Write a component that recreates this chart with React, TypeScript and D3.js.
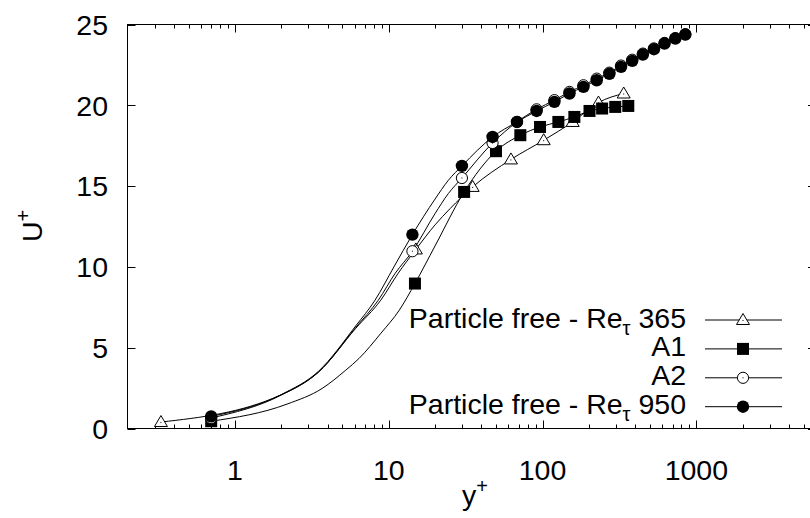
import React, { useEffect, useRef } from "react";
import * as d3 from "d3";

// y+ , U+ pairs
const re365Line = [
  [0.33, 0.4], [1.98, 2.07], [3.5, 3.5], [6.1, 6.2], [8.87, 7.94], [11.5, 9.6],
  [15, 11.08], [20, 12.6], [25, 13.6], [35.1, 14.95], [62.3, 16.65], [101.7, 17.84],
  [157, 18.97], [231, 20.17], [337, 20.73],
];
const re365Marks = [
  [0.33, 0.4], [15, 11.08], [35.1, 14.95], [62.3, 16.65], [101.7, 17.84],
  [157, 18.97], [231, 20.17], [337, 20.73],
];

const a1Line = [
  [0.7, 0.45], [2.18, 1.51], [3.69, 2.48], [5.25, 3.61], [6.4, 4.33], [8.9, 5.9],
  [11.7, 7.32], [14.8, 8.97], [20, 11.3], [30.9, 14.64], [49.8, 17.16], [71.7, 18.15],
  [96.3, 18.66], [126.7, 18.97], [161, 19.28], [202, 19.65], [244, 19.8], [297, 19.9],
  [361, 19.96],
];
const a1Marks = [
  [0.7, 0.45], [14.8, 8.97], [30.9, 14.64], [49.8, 17.16], [71.7, 18.15], [96.3, 18.66],
  [126.7, 18.97], [161, 19.28], [202, 19.65], [244, 19.8], [297, 19.9], [361, 19.96],
];

const a2Line = [
  [0.7, 0.65], [2.0, 2.07], [3.5, 3.5], [6.1, 6.25], [8.55, 7.94], [11, 9.6],
  [14.25, 10.97], [20, 13.3], [24.4, 14.54], [29.9, 15.5], [47.3, 17.67], [68.2, 18.97],
  [91.5, 19.75], [119.4, 20.32], [149.6, 20.83], [184.4, 21.24], [225, 21.65], [272, 22.02],
  [324, 22.46], [383, 22.82], [449, 23.2], [530, 23.52], [621, 23.86], [730, 24.16], [848, 24.4],
];
const a2Marks = [
  [0.7, 0.65], [14.25, 10.97], [29.9, 15.5], [47.3, 17.67], [68.2, 18.97], [91.5, 19.75],
  [119.4, 20.32], [149.6, 20.83], [184.4, 21.24], [225, 21.65], [272, 22.02], [324, 22.46],
  [383, 22.82], [449, 23.2], [530, 23.52], [621, 23.86], [730, 24.16], [848, 24.4],
];

const re950Line = [
  [0.7, 0.75], [2.0, 2.1], [3.5, 3.55], [6.1, 6.35], [8.14, 7.94], [10.8, 10.0],
  [14.25, 12.0], [20, 14.2], [24.4, 15.36], [29.9, 16.25], [47.3, 18.04], [68.2, 18.97],
  [91.5, 19.65], [119.4, 20.21], [149.6, 20.73], [184.4, 21.14], [225, 21.55], [272, 21.95],
  [324, 22.38], [383, 22.75], [449, 23.14], [530, 23.47], [621, 23.82], [730, 24.13], [848, 24.38],
];
const re950Marks = [
  [0.7, 0.75], [14.25, 12.0], [29.9, 16.25], [47.3, 18.04], [68.2, 18.97], [91.5, 19.65],
  [119.4, 20.21], [149.6, 20.73], [184.4, 21.14], [225, 21.55], [272, 21.95], [324, 22.38],
  [383, 22.75], [449, 23.14], [530, 23.47], [621, 23.82], [730, 24.13], [848, 24.38],
];

const legendNames = [
  ["Particle free - Re", "τ", " 365"],
  ["A1", "", ""],
  ["A2", "", ""],
  ["Particle free - Re", "τ", " 950"],
];
const symbols = ["triangle", "square", "circle", "dot"];
const xMajor = [1, 10, 100, 1000, 10000];
const yMajor = [0, 5, 10, 15, 20, 25];

const App = () => {
  const svgRef = useRef(null);

  useEffect(() => {
    const W = 810, H = 518;
    const left = 127.5, right = 816, top = 24.5, bottom = 428.5;
    const font = "'Liberation Sans', Arial, sans-serif";
    const fs = 28.5;
    const svg = d3.select(svgRef.current).attr("width", W).attr("height", H);
    svg.selectAll("*").remove();

    const x = d3.scaleLog().domain([0.2, 6000]).range([left, right]);
    const y = d3.scaleLinear().domain([0, 25]).range([bottom, top]);

    const ax = svg.append("g").attr("stroke", "#000").attr("stroke-width", 1);

    // minor ticks on log axis
    const minor = [];
    for (let d = 0.1; d < 10000; d *= 10) {
      for (let k = 2; k < 10; k++) {
        const v = d * k;
        if (v > 0.2 && v < 6000) minor.push(v);
      }
    }
    const majorX = xMajor.filter(v => v <= 6000);
    [[majorX, 8], [minor, 4]].forEach(([vals, len]) => {
      ax.selectAll(null).data(vals).join("line")
        .attr("x1", d => Math.round(x(d)) + 0.5).attr("x2", d => Math.round(x(d)) + 0.5)
        .attr("y1", bottom).attr("y2", bottom - len);
      ax.selectAll(null).data(vals).join("line")
        .attr("x1", d => Math.round(x(d)) + 0.5).attr("x2", d => Math.round(x(d)) + 0.5)
        .attr("y1", top).attr("y2", top + len);
    });
    ax.selectAll(null).data(yMajor).join("line")
      .attr("x1", left).attr("x2", left + 8)
      .attr("y1", d => Math.round(y(d)) + 0.5).attr("y2", d => Math.round(y(d)) + 0.5);
    ax.selectAll(null).data(yMajor).join("line")
      .attr("x1", right).attr("x2", right - 8)
      .attr("y1", d => Math.round(y(d)) + 0.5).attr("y2", d => Math.round(y(d)) + 0.5);

    ax.append("rect").attr("x", left).attr("y", top)
      .attr("width", right - left).attr("height", bottom - top)
      .attr("fill", "none");

    const lab = svg.append("g").attr("font-family", font).attr("font-size", fs).attr("fill", "#000");
    lab.selectAll(null).data(yMajor).join("text")
      .attr("x", 108).attr("y", d => y(d)).attr("dy", "0.36em")
      .attr("text-anchor", "end").text(d => d);
    lab.selectAll(null).data(majorX).join("text")
      .attr("x", d => x(d)).attr("y", 480)
      .attr("text-anchor", "middle").text(d => d);

    const ylab = lab.append("text").attr("transform", "translate(42,242) rotate(-90)");
    ylab.append("tspan").text("U");
    ylab.append("tspan").attr("font-size", 20).attr("dy", -12).text("+");
    const xlab = lab.append("text").attr("x", 462).attr("y", 505);
    xlab.append("tspan").text("y");
    xlab.append("tspan").attr("font-size", 20).attr("dy", -12).text("+");

    const drawSymbol = (g, sym, cx, cy) => {
      if (sym === "triangle") {
        g.append("path")
          .attr("d", `M${cx - 6.5},${cy + 4.5}L${cx + 6.5},${cy + 4.5}L${cx},${cy - 6.5}Z`)
          .attr("fill", "#fff").attr("stroke", "#000");
        g.append("rect").attr("x", cx - 0.5).attr("y", cy).attr("width", 1).attr("height", 1).attr("fill", "#000");
      } else if (sym === "square") {
        g.append("rect").attr("x", cx - 6).attr("y", cy - 6).attr("width", 12).attr("height", 12).attr("fill", "#000");
      } else if (sym === "circle") {
        g.append("circle").attr("cx", cx).attr("cy", cy).attr("r", 5.6)
          .attr("fill", "#fff").attr("stroke", "#000");
        g.append("rect").attr("x", cx - 0.5).attr("y", cy - 0.5).attr("width", 1).attr("height", 1).attr("fill", "#000");
      } else {
        g.append("circle").attr("cx", cx).attr("cy", cy).attr("r", 6.2)
          .attr("fill", "#000");
      }
    };

    const lines = [re365Line, a1Line, a2Line, re950Line];
    const marks = [re365Marks, a1Marks, a2Marks, re950Marks];
    const lineGen = d3.line().x(d => x(d[0])).y(d => y(d[1])).curve(d3.curveMonotoneX);

    lines.forEach((data, i) => {
      const g = svg.append("g");
      g.append("path").attr("d", lineGen(data)).attr("fill", "none")
        .attr("stroke", "#000").attr("stroke-width", 1);
      marks[i].forEach(d => drawSymbol(g, symbols[i], x(d[0]), y(d[1])));

      // legend row
      const ly = 320 + i * 28.9;
      g.append("line").attr("x1", 705).attr("x2", 782).attr("y1", ly).attr("y2", ly)
        .attr("stroke", "#000");
      drawSymbol(g, symbols[i], 743, ly);
      const t = g.append("text").attr("x", 686).attr("y", ly + 7.5)
        .attr("text-anchor", "end").attr("font-family", font).attr("font-size", fs);
      const [a, sub, b] = legendNames[i];
      t.append("tspan").text(a);
      if (sub) {
        t.append("tspan").attr("font-size", 20).attr("dy", 7).text(sub);
        t.append("tspan").attr("dy", -7).text(b);
      }
    });
  }, []);

  return (
    <div style={{ position: "absolute", left: 0, top: 0 }}>
      <svg ref={svgRef} style={{ display: "block" }}></svg>
    </div>
  );
};

export default App;
